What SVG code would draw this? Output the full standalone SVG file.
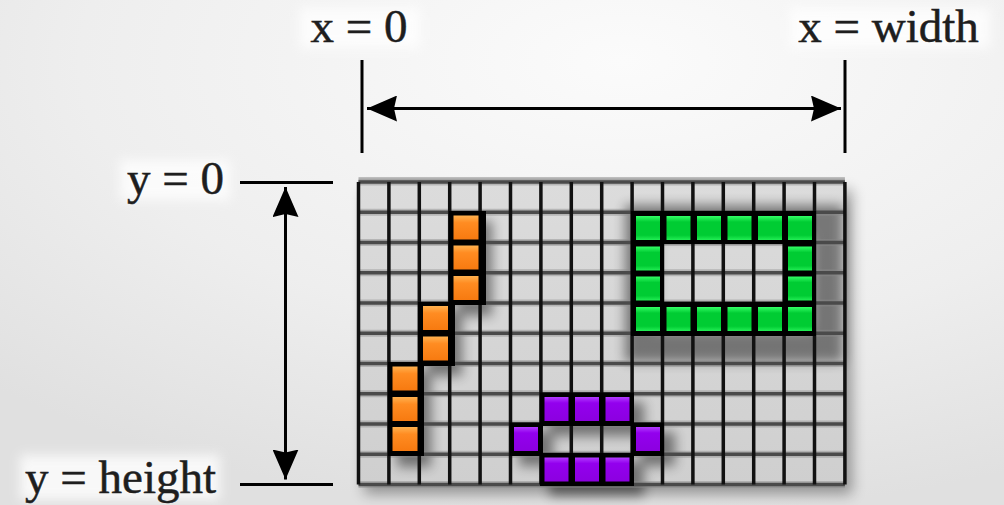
<svg xmlns="http://www.w3.org/2000/svg" width="1004" height="505" viewBox="0 0 1004 505">
<defs>
  <radialGradient id="bg" cx="0.62" cy="0.12" r="0.9">
    <stop offset="0" stop-color="#fbfbfb"/>
    <stop offset="0.6" stop-color="#eeeeee"/>
    <stop offset="1" stop-color="#e0e0e0"/>
  </radialGradient>
  <linearGradient id="cellg" x1="0" y1="0" x2="0" y2="1">
    <stop offset="0" stop-color="#dcdcdc"/>
    <stop offset="1" stop-color="#cfcfcf"/>
  </linearGradient>
  <linearGradient id="og" x1="0" y1="0" x2="0" y2="1">
    <stop offset="0" stop-color="#ffb14f"/>
    <stop offset="0.3" stop-color="#ff8c22"/>
    <stop offset="1" stop-color="#f77a10"/>
  </linearGradient>
  <linearGradient id="gg" x1="0" y1="0" x2="0" y2="1">
    <stop offset="0" stop-color="#33ff66"/>
    <stop offset="0.25" stop-color="#00cc33"/>
    <stop offset="0.8" stop-color="#00cc33"/>
    <stop offset="1" stop-color="#22ee55"/>
  </linearGradient>
  <linearGradient id="pg" x1="0" y1="0" x2="0" y2="1">
    <stop offset="0" stop-color="#b23cff"/>
    <stop offset="0.25" stop-color="#9300ee"/>
    <stop offset="1" stop-color="#8c00e0"/>
  </linearGradient>
  <filter id="sh" x="-20%" y="-20%" width="150%" height="150%">
    <feGaussianBlur stdDeviation="6"/>
  </filter>
  <filter id="gridsh" x="-10%" y="-10%" width="125%" height="130%">
    <feGaussianBlur stdDeviation="7"/>
  </filter>
  <filter id="glow" x="-20%" y="-40%" width="140%" height="180%">
    <feGaussianBlur stdDeviation="6"/>
  </filter>
  <marker id="ah" viewBox="0 0 30 26" refX="30" refY="13" markerWidth="30" markerHeight="26" markerUnits="userSpaceOnUse" orient="auto-start-reverse">
    <path d="M0,0 L30,13 L0,26 L3,13 Z" fill="#000"/>
  </marker>
  <style>
    .lbl { font-family: "Liberation Serif", "Times New Roman", serif; font-size: 47px; fill: #1e1e1e; stroke: #1e1e1e; stroke-width: 0.5; }
    .ln { stroke: #000; stroke-width: 3; fill: none; }
    .vl { stroke: #111; stroke-width: 3.5; }
    .hl { stroke: #4a4a4a; stroke-width: 3.5; }
    .hh { stroke: #8a8a8a; stroke-width: 7; opacity: 0.45; }
    .blk { fill: #000; }
  </style>
</defs>

<rect width="1004" height="505" fill="url(#bg)"/>

<!-- grid shadow -->
<rect x="364" y="190" width="488" height="304" fill="#000" opacity="0.35" filter="url(#gridsh)"/>

<g id="grid">
  <rect x="358.5" y="177" width="486.4" height="5" fill="#bdbdbd"/>
  <rect x="358.5" y="182" width="486.4" height="302.5" fill="url(#cellg)"/>
  <!-- shadows of coloured blocks -->
  <g opacity="0.45" filter="url(#sh)" fill="#000">
    <rect x="458" y="221" width="34" height="95"/>
    <rect x="428" y="311" width="34" height="65"/>
    <rect x="397" y="372" width="34" height="95"/>
    <rect x="641" y="221" width="186" height="125" fill="none" stroke="#000" stroke-width="32"/>
    <rect x="549" y="402" width="95" height="34"/>
    <rect x="519" y="432" width="34" height="34"/>
    <rect x="641" y="432" width="34" height="34"/>
    <rect x="549" y="462" width="95" height="34"/>
  </g>
  <path class="hh" d="M358.5,182H844.9 M358.5,212.25H844.9 M358.5,242.5H844.9 M358.5,272.75H844.9 M358.5,303H844.9 M358.5,333.25H844.9 M358.5,363.5H844.9 M358.5,393.75H844.9 M358.5,424H844.9 M358.5,454.25H844.9 M358.5,484.5H844.9"/>
  <path class="hl" d="M358.5,182H844.9 M358.5,212.25H844.9 M358.5,242.5H844.9 M358.5,272.75H844.9 M358.5,303H844.9 M358.5,333.25H844.9 M358.5,363.5H844.9 M358.5,393.75H844.9 M358.5,424H844.9 M358.5,454.25H844.9 M358.5,484.5H844.9"/>
  <path class="vl" d="M358.5,182V484.5 M388.9,182V484.5 M419.3,182V484.5 M449.7,182V484.5 M480.1,182V484.5 M510.5,182V484.5 M540.9,182V484.5 M571.3,182V484.5 M601.7,182V484.5 M632.1,182V484.5 M662.5,182V484.5 M692.9,182V484.5 M723.3,182V484.5 M753.7,182V484.5 M784.1,182V484.5 M814.5,182V484.5 M844.9,182V484.5"/>
</g>

<g id="orange-line">
  <rect class="blk" x="449" y="211" width="37" height="94"/>
  <rect class="blk" x="418" y="302" width="37" height="64"/>
  <rect class="blk" x="388" y="362" width="36" height="94"/>
  <g fill="url(#og)">
    <rect x="453.5" y="215.5" width="25" height="24"/>
    <rect x="453.5" y="245.5" width="25" height="24"/>
    <rect x="453.5" y="276" width="25" height="24"/>
    <rect x="423" y="306" width="25" height="24"/>
    <rect x="423" y="336.5" width="25" height="24"/>
    <rect x="392.5" y="366.5" width="25" height="24"/>
    <rect x="392.5" y="397" width="25" height="24"/>
    <rect x="392.5" y="427" width="25" height="24"/>
  </g>
</g>

<g id="green-rect">
  <path fill="#000" d="M631,211H816V244H631Z M631,302H816V336H631Z M631,211H664V336H631Z M783,211H816V336H783Z"/>
  <g fill="url(#gg)">
    <rect x="636" y="216" width="24" height="24"/>
    <rect x="666.5" y="216" width="24" height="24"/>
    <rect x="697" y="216" width="24" height="24"/>
    <rect x="727.5" y="216" width="24" height="24"/>
    <rect x="758" y="216" width="24" height="24"/>
    <rect x="788" y="216" width="24" height="24"/>
    <rect x="636" y="246.5" width="24" height="24"/>
    <rect x="788" y="246.5" width="24" height="24"/>
    <rect x="636" y="276.5" width="24" height="24"/>
    <rect x="788" y="276.5" width="24" height="24"/>
    <rect x="636" y="307" width="24" height="24"/>
    <rect x="666.5" y="307" width="24" height="24"/>
    <rect x="697" y="307" width="24" height="24"/>
    <rect x="727.5" y="307" width="24" height="24"/>
    <rect x="758" y="307" width="24" height="24"/>
    <rect x="788" y="307" width="24" height="24"/>
  </g>
</g>

<g id="purple-ellipse">
  <path fill="#000" d="M540,392.5H634V426H540Z M509.5,422.5H543V456H509.5Z M631,422.5H664V456H631Z M540,453H634V486H540Z"/>
  <g fill="url(#pg)">
    <rect x="544.5" y="397" width="24" height="24"/>
    <rect x="575" y="397" width="24" height="24"/>
    <rect x="605.5" y="397" width="24" height="24"/>
    <rect x="514" y="427" width="24" height="24"/>
    <rect x="636" y="427" width="24" height="24"/>
    <rect x="544.5" y="457.5" width="24" height="24"/>
    <rect x="575" y="457.5" width="24" height="24"/>
    <rect x="605.5" y="457.5" width="24" height="24"/>
  </g>
</g>

<!-- label glow -->
<g fill="#ffffff" opacity="0.8" filter="url(#glow)">
  <rect x="300" y="8" width="120" height="40"/>
  <rect x="790" y="8" width="200" height="40"/>
  <rect x="120" y="160" width="110" height="40"/>
  <rect x="20" y="455" width="200" height="45"/>
</g>

<g id="label-x0"><text class="lbl" x="359" y="42" text-anchor="middle">x = 0</text></g>
<g id="label-xwidth"><text class="lbl" x="888.5" y="42" text-anchor="middle">x = width</text></g>
<g id="label-y0"><text class="lbl" x="224" y="194" text-anchor="end">y = 0</text></g>
<g id="label-yheight"><text class="lbl" x="216" y="493" text-anchor="end">y = height</text></g>

<g id="connectors">
  <line class="ln" x1="362" y1="60" x2="362" y2="153"/>
  <line class="ln" x1="845" y1="60" x2="845" y2="153"/>
  <line class="ln" x1="367" y1="108.5" x2="841" y2="108.5" marker-start="url(#ah)" marker-end="url(#ah)"/>
  <line class="ln" x1="240" y1="182.5" x2="333" y2="182.5"/>
  <line class="ln" x1="240" y1="484.5" x2="333" y2="484.5"/>
  <line class="ln" x1="285.5" y1="187" x2="285.5" y2="479.5" marker-start="url(#ah)" marker-end="url(#ah)"/>
</g>
</svg>
